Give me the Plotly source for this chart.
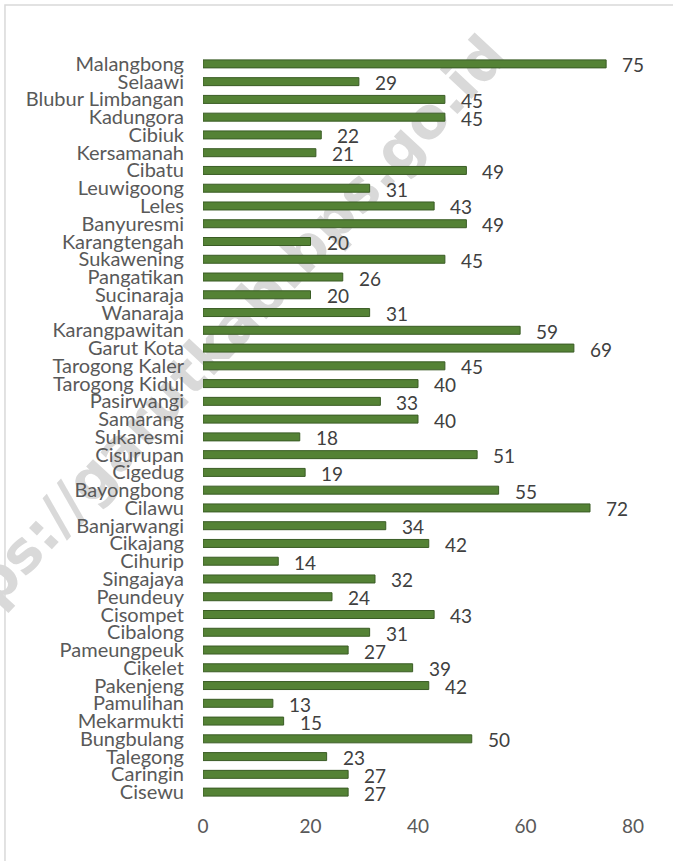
import plotly.graph_objects as go

kecamatan = [
    "Malangbong", "Selaawi", "Blubur Limbangan", "Kadungora", "Cibiuk",
    "Kersamanah", "Cibatu", "Leuwigoong", "Leles", "Banyuresmi",
    "Karangtengah", "Sukawening", "Pangatikan", "Sucinaraja", "Wanaraja",
    "Karangpawitan", "Garut Kota", "Tarogong Kaler", "Tarogong Kidul", "Pasirwangi",
    "Samarang", "Sukaresmi", "Cisurupan", "Cigedug", "Bayongbong",
    "Cilawu", "Banjarwangi", "Cikajang", "Cihurip", "Singajaya",
    "Peundeuy", "Cisompet", "Cibalong", "Pameungpeuk", "Cikelet",
    "Pakenjeng", "Pamulihan", "Mekarmukti", "Bungbulang", "Talegong",
    "Caringin", "Cisewu",
]

jumlah = [
    75, 29, 45, 45, 22,
    21, 49, 31, 43, 49,
    20, 45, 26, 20, 31,
    59, 69, 45, 40, 33,
    40, 18, 51, 19, 55,
    72, 34, 42, 14, 32,
    24, 43, 31, 27, 39,
    42, 13, 15, 50, 23,
    27, 27,
]

x_ticks = [0, 20, 40, 60, 80]

font_name = "Lato"
text_color = "#404040"

fig = go.Figure()

fig.add_trace(
    go.Bar(
        x=jumlah,
        y=kecamatan,
        orientation="h",
        marker=dict(color="#548235", line=dict(color="#3a5c25", width=1)),
        hoverinfo="x+y",
    )
)

# value labels to the right of each bar
for name, val in zip(kecamatan, jumlah):
    fig.add_annotation(
        x=val, y=name, text=str(val),
        xanchor="left", yanchor="middle", xshift=14, yshift=-1,
        showarrow=False,
        font=dict(family=font_name, size=19, color=text_color),
    )

# chart border (only left/top edges visible in the crop)
fig.add_shape(
    type="rect", xref="paper", yref="paper",
    x0=-0.4605, x1=1.3, y0=-0.3, y1=1.067,
    line=dict(color="#d9d9d9", width=1.5),
    layer="below",
)

# watermark, behind the bars
fig.add_shape(
    type="rect", xref="paper", yref="paper",
    x0=-0.01, x1=0.01, y0=0.592, y1=0.612,
    line=dict(width=0), fillcolor="rgba(0,0,0,0)",
    layer="below",
    label=dict(
        text="https://garutkab.bps.go.id",
        textangle=-47,
        textposition="middle center",
        font=dict(family="DejaVu Sans", size=57, color="#d9d9d9", weight="bold"),
    ),
)

fig.update_layout(
    width=673,
    height=861,
    margin=dict(l=203, r=40, t=55, b=60),
    paper_bgcolor="white",
    plot_bgcolor="rgba(0,0,0,0)",
    bargap=0.55,
    showlegend=False,
    font=dict(family=font_name, size=19, color=text_color),
)

fig.update_xaxes(
    range=[0, 80],
    tickvals=x_ticks,
    showgrid=False,
    zeroline=False,
    showline=False,
    automargin=False,
    ticklabelstandoff=12,
    tickfont=dict(family=font_name, size=19, color="#595959"),
)

fig.update_yaxes(
    range=[len(kecamatan) - 0.5, -0.5],
    tickmode="linear",
    dtick=1,
    showgrid=False,
    showline=False,
    automargin=False,
    ticklabelstandoff=18,
    tickfont=dict(family=font_name, size=20, color="#595959"),
)

fig.write_html(
    "out.html",
    config={"displayModeBar": False},
    post_script="document.body.style.margin='0';",
)
